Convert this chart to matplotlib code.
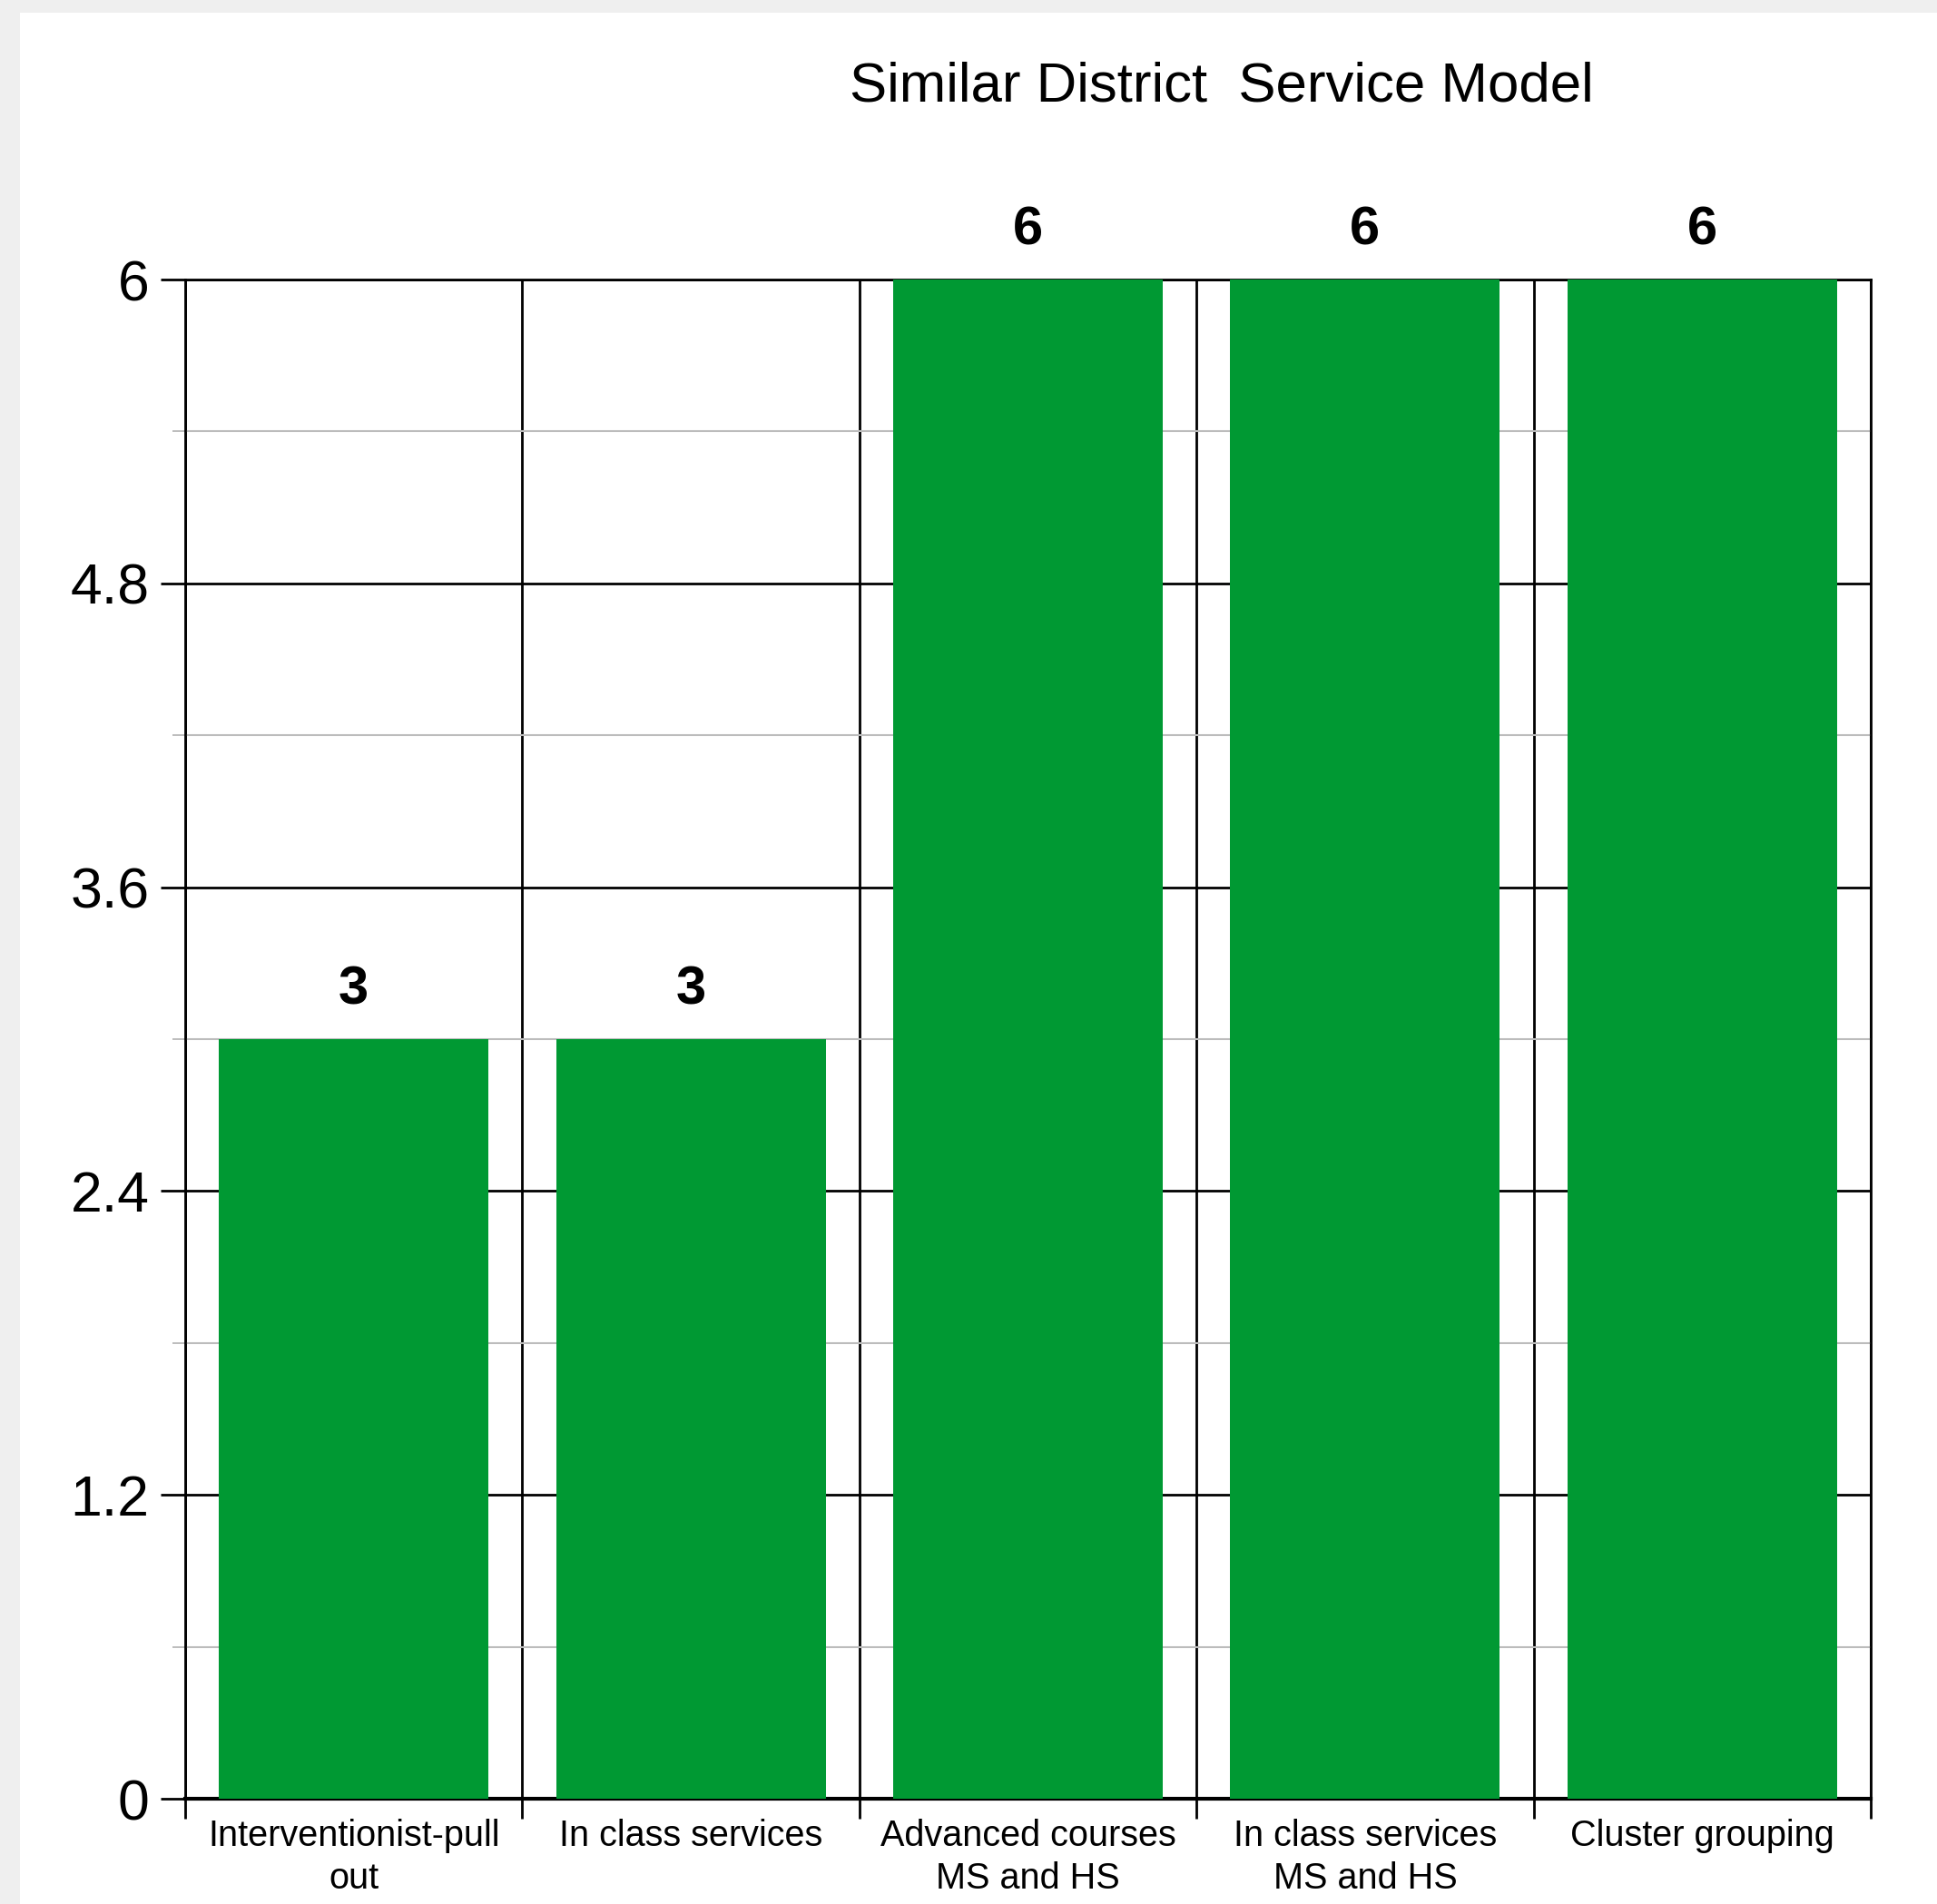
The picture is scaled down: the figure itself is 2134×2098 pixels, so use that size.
import numpy as np
import matplotlib.pyplot as plt
from matplotlib.patches import Rectangle

categories = ['Interventionist-pull\nout', 'In class services', 'Advanced courses\nMS and HS',
              'In class services\nMS and HS', 'Cluster grouping']
values = [3, 3, 6, 6, 6]
yticks = [0, 1.2, 2.4, 3.6, 4.8, 6]
ytick_labels = ['0', '1.2', '2.4', '3.6', '4.8', '6']
title = 'Similar District  Service Model'

plt.rcParams['font.family'] = ['Liberation Sans', 'DejaVu Sans']

W, H = 2134, 2098
fig = plt.figure(figsize=(W/100, H/100), dpi=100)
fig.patch.set_facecolor('#efefef')
fig.patches.append(Rectangle((22/W, 0), 1, 1-14/H, transform=fig.transFigure,
                             facecolor='white', edgecolor='none', zorder=-10))

ax = fig.add_axes([204/W, 1-1982/H, (2061-204)/W, (1982-308)/H])
xx = np.arange(len(values))
ax.bar(xx, values, width=0.8, color='#009933', zorder=3)
for x, v in zip(xx, values):
    ax.annotate(str(v), (x, v), xytext=(0, 28), textcoords='offset points',
                ha='center', va='baseline', fontsize=43, fontweight='bold',
                annotation_clip=False)

ax.set_xlim(-0.5, len(values)-0.5)
ax.set_ylim(0, 6)
ax.set_xticks(xx, categories, fontsize=28.5, linespacing=1.3)
ax.set_xticks(np.arange(len(values)+1)-0.5, minor=True)
ax.set_yticks(yticks, ytick_labels, fontsize=45)
ax.set_yticks(np.arange(0.6, 6, 1.2), minor=True)

ax.tick_params(axis='x', which='major', length=0, pad=16)
ax.tick_params(axis='x', which='minor', length=16, width=2, color='black')
ax.tick_params(axis='y', which='major', length=19.5, width=2, pad=9, color='black')
ax.tick_params(axis='y', which='minor', length=10, width=1.3, color='#b8b8b8')

ax.set_axisbelow(True)
ax.grid(axis='y', which='major', color='black', lw=2)
ax.grid(axis='y', which='minor', color='#bcbcbc', lw=1.5)
ax.grid(axis='x', which='minor', color='black', lw=2)
for s in ax.spines.values():
    s.set_linewidth(2)
ax.spines['bottom'].set_linewidth(3)

fig.text(1346/W, 1-112/H, title, ha='center', va='baseline', fontsize=44.5)

fig.savefig('out.png', dpi=100, facecolor=fig.get_facecolor())
